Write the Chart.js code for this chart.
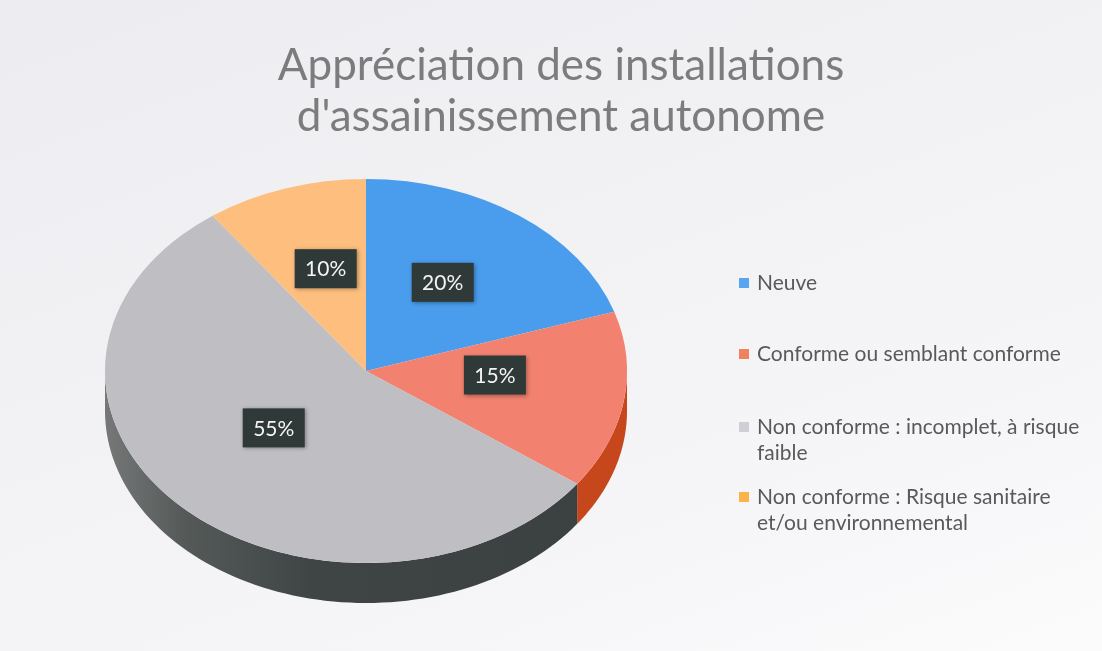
<!DOCTYPE html>
<html>
<head>
<meta charset="utf-8">
<script src="https://cdn.jsdelivr.net/npm/chart.js@4/dist/chart.umd.min.js"></script>
<style>
  html, body { margin: 0; padding: 0; }
  body {
    width: 1102px; height: 651px; overflow: hidden;
    background: linear-gradient(160deg, #ededf1 0%, #f2f2f5 45%, #f6f6f8 75%, #fbfbfc 100%);
  }
  #wrap { position: relative; width: 1102px; height: 651px; }
</style>
</head>
<body>
<div id="wrap"><canvas id="c" width="1102" height="651"></canvas></div>
<script>
// ---- data ----
const titleLines = ["Appréciation des installations", "d'assainissement autonome"];
const categories = [
  "Neuve",
  "Conforme ou semblant conforme",
  "Non conforme : incomplet, à risque faible",
  "Non conforme : Risque sanitaire et/ou environnemental"
];
const legendLines = [
  ["Neuve"],
  ["Conforme ou semblant conforme"],
  ["Non conforme : incomplet, à risque", "faible"],
  ["Non conforme : Risque sanitaire", "et/ou environnemental"]
];
const values = [20, 15, 55, 10];

// ---- styles ----
const sliceColors = ["#4a9ded", "#f2826f", "#bebec3", "#fdbe7e"];
const legendColors = ["#5aa6ee", "#f2825e", "#cfcfd6", "#fcb44a"];
const wallColors = ["#2a6fb8", "#c6471c", "#434948", "#d08a3a"];

const geo = { cx: 366, cy: 371, rx: 261, ry: 192, depth: 40, labelDy: -11 };

function project(arc, px, py) {
  const k = geo.ry / geo.rx;
  return [geo.cx + (px - arc.x), geo.cy + k * (py - arc.y)];
}

const pie3d = {
  id: 'pie3d',
  beforeDatasetsDraw(chart) {
    const ctx = chart.ctx;
    const meta = chart.getDatasetMeta(0);
    const k = geo.ry / geo.rx;
    ctx.save();
    // side walls (visible lower half: canvas angles 0..PI)
    meta.data.forEach((arc, i) => {
      const s = Math.max(arc.startAngle, 0), e = Math.min(arc.endAngle, Math.PI);
      if (e <= s) return;
      const R = geo.rx;
      ctx.beginPath();
      const steps = 80;
      for (let j = 0; j <= steps; j++) {
        const a = s + (e - s) * j / steps;
        const x = geo.cx + R * Math.cos(a), y = geo.cy + k * R * Math.sin(a);
        j === 0 ? ctx.moveTo(x, y) : ctx.lineTo(x, y);
      }
      for (let j = steps; j >= 0; j--) {
        const a = s + (e - s) * j / steps;
        ctx.lineTo(geo.cx + R * Math.cos(a), geo.cy + k * R * Math.sin(a) + geo.depth);
      }
      ctx.closePath();
      if (i === 2) {
        const g = ctx.createLinearGradient(geo.cx - R, 0, geo.cx + R, 0);
        g.addColorStop(0, "#767878");
        g.addColorStop(0.15, "#555a59");
        g.addColorStop(0.4, "#3e4544");
        g.addColorStop(1, "#3a4140");
        ctx.fillStyle = g;
      } else {
        ctx.fillStyle = wallColors[i];
      }
      ctx.fill();
    });
    // transform for top face
    const arc0 = meta.data[0];
    ctx.translate(geo.cx, geo.cy);
    ctx.scale(1, k);
    ctx.translate(-arc0.x, -arc0.y);
  },
  afterDatasetsDraw(chart) {
    const ctx = chart.ctx;
    ctx.restore();
    const meta = chart.getDatasetMeta(0);
    const ds = chart.data.datasets[0];
    const total = ds.data.reduce((a, b) => a + b, 0);
    ctx.save();
    ctx.font = "21px Lato";
    ctx.textAlign = "center";
    ctx.textBaseline = "middle";
    meta.data.forEach((arc, i) => {
      const p = arc.tooltipPosition();
      const [x, y0] = project(arc, p.x, p.y);
      const y = y0 + geo.labelDy;
      const txt = Math.round(ds.data[i] / total * 100) + "%";
      const w = 62, h = 39;
      ctx.shadowColor = "rgba(0,0,0,0.35)";
      ctx.shadowBlur = 4;
      ctx.shadowOffsetX = 1;
      ctx.shadowOffsetY = 1;
      ctx.fillStyle = "#2f3937";
      ctx.fillRect(x - w / 2, y - h / 2, w, h);
      ctx.shadowColor = "transparent";
      ctx.fillStyle = "#f4f4f4";
      ctx.fillText(txt, x, y + 1);
    });
    ctx.restore();
  },
  afterDraw(chart) {
    // legend
    const ctx = chart.ctx;
    const items = [283, 354, 427, 497];
    ctx.save();
    ctx.font = "21px Lato";
    ctx.textBaseline = "middle";
    ctx.textAlign = "left";
    legendLines.forEach((lines, i) => {
      const y = items[i];
      ctx.fillStyle = legendColors[i];
      ctx.fillRect(739, y - 5, 10, 10);
      ctx.fillStyle = "#595959";
      lines.forEach((t, j) => ctx.fillText(t, 757, y + j * 26));
    });
    ctx.restore();
  }
};

new Chart(document.getElementById('c'), {
  type: 'pie',
  data: {
    labels: categories,
    datasets: [{
      data: values,
      backgroundColor: sliceColors,
      borderWidth: 0
    }]
  },
  options: {
    responsive: false,
    animation: false,
    radius: geo.rx,
    layout: { padding: { left: 20 } },
    plugins: {
      legend: { display: false },
      tooltip: { enabled: false },
      title: {
        display: true,
        text: titleLines,
        color: "#7c7c7c",
        font: { family: "Lato", size: 44, weight: "normal", lineHeight: 1.16 },
        padding: { top: 40, bottom: 0 }
      }
    }
  },
  plugins: [pie3d]
});
</script>
</body>
</html>
